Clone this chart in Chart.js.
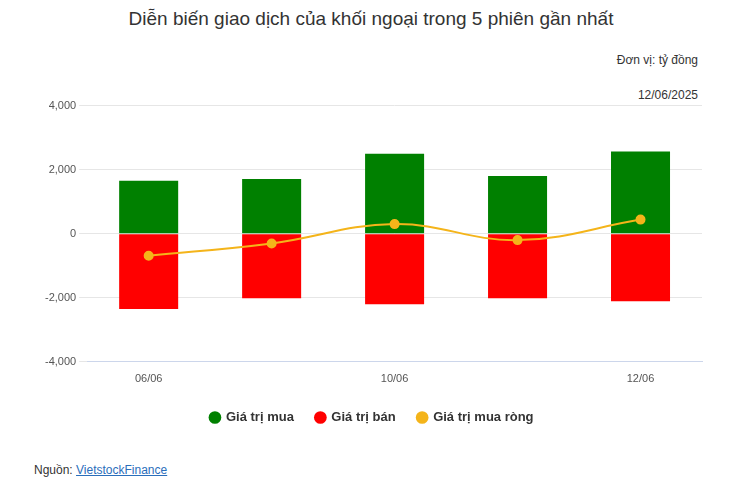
<!DOCTYPE html>
<html><head><meta charset="utf-8">
<script src="https://cdn.jsdelivr.net/npm/chart.js@4"></script>
<style>
body{margin:0;width:742px;height:498px;font-family:Arial,"Liberation Sans",sans-serif;background:#fff;position:relative;overflow:hidden}
#t{position:absolute;top:8px;left:0;width:742px;text-align:center;font-size:19px;color:#333}
#u{position:absolute;top:53px;right:44px;font-size:12px;color:#333}
#d{position:absolute;top:88px;right:44px;font-size:12px;color:#333}
#c{position:absolute;left:30px;top:96px;width:680px;height:338px}
#s{position:absolute;top:463px;left:34px;font-size:12px;color:#333}
#s a{color:#2a6ebb;text-decoration:underline}
</style></head><body>
<div id="t">Diễn biến giao dịch của khối ngoại trong 5 phiên gần nhất</div>
<div id="u">Đơn vị: tỷ đồng</div>
<div id="d">12/06/2025</div>
<div id="c"><canvas id="cv"></canvas></div>
<div id="s">Nguồn: <a>VietstockFinance</a></div>
<script>
const categories=["06/06","09/06","10/06","11/06","12/06"];
const buyValues=[1650,1710,2500,1800,2565];
const sellValues=[-2350,-2015,-2200,-2015,-2110];
const netValues=[-690,-305,300,-200,440];
const yTicks=[-4000,-2000,0,2000,4000];
new Chart(document.getElementById('cv'),{
data:{labels:categories,datasets:[
{type:'line',label:'Giá trị mua ròng',data:netValues,borderColor:'#f4b41a',backgroundColor:'#f4b41a',tension:0.4,pointRadius:4,borderWidth:2,order:0},
{type:'bar',label:'Giá trị mua',data:buyValues,backgroundColor:'#008000',stack:'s',barPercentage:0.48,categoryPercentage:1,order:1},
{type:'bar',label:'Giá trị bán',data:sellValues,backgroundColor:'#ff0000',stack:'s',barPercentage:0.48,categoryPercentage:1,order:1}
]},
options:{responsive:true,maintainAspectRatio:false,animation:false,
layout:{padding:{right:8,left:12}},
plugins:{legend:{position:'bottom',labels:{usePointStyle:true,pointStyle:'circle',boxWidth:9,boxHeight:9,padding:22,color:'#333',font:{size:13,weight:'bold'},
generateLabels:ch=>[1,2,0].map(i=>{const ds=ch.data.datasets[i];return {text:ds.label,fillStyle:ds.backgroundColor,strokeStyle:ds.backgroundColor,lineWidth:0,pointStyle:'circle',datasetIndex:i,fontColor:'#333'};})}},tooltip:{enabled:false}},
scales:{
x:{stacked:true,grid:{display:false},border:{color:'#ccd6eb'},ticks:{color:'#555',font:{size:11},autoSkip:false,callback:(v,i)=>i%2===0?categories[i]:''}},
y:{stacked:true,min:-4000,max:4000,afterBuildTicks:a=>{a.ticks=yTicks.map(v=>({value:v}))},grid:{color:'#e6e6e6'},border:{display:false},ticks:{color:'#555',font:{size:11},callback:v=>v.toLocaleString('en-US')}}
}}});
</script></body></html>
